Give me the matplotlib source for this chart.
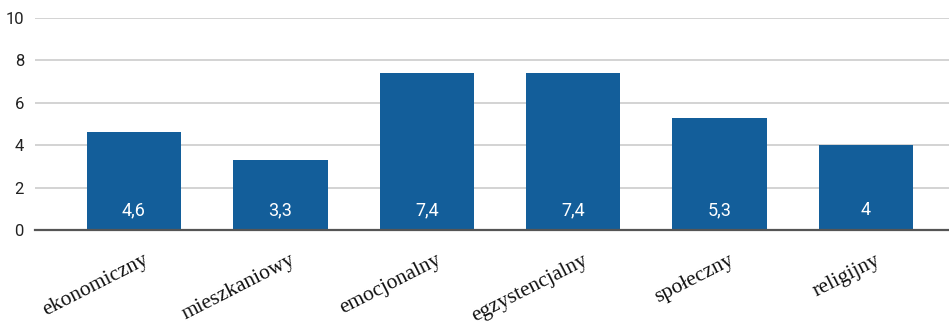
import matplotlib
matplotlib.use("Agg")
import matplotlib.pyplot as plt
from matplotlib.transforms import ScaledTranslation

categories = ["ekonomiczny", "mieszkaniowy", "emocjonalny", "egzystencjalny", "społeczny", "religijny"]
values = [4.6, 3.3, 7.4, 7.4, 5.3, 4.0]
y_ticks = [0, 2, 4, 6, 8, 10]

bar_color = "#135e9a"

fig = plt.figure(figsize=(9.49, 3.24), dpi=100)
ax = fig.add_axes([35 / 949, 1 - 230 / 324, 914 / 949, 212 / 324])

x = list(range(len(categories)))
ax.bar(x, values, width=0.645, color=bar_color, zorder=3)

ax.set_xlim(-0.676, 5.567)
ax.set_ylim(0, 10)
ax.set_yticks(y_ticks)
ax.set_yticklabels([str(t) for t in y_ticks], fontfamily="Roboto", fontsize=12, color="#222222")
ax.tick_params(axis="y", length=0, pad=8)
ax.tick_params(axis="x", length=0)
ax.grid(axis="y", color="#cccccc", linewidth=1.2, zorder=0)
ax.set_axisbelow(True)
for side in ("top", "right", "left"):
    ax.spines[side].set_visible(False)
ax.spines["bottom"].set_color("#555555")
ax.spines["bottom"].set_linewidth(1.6)
ax.spines["bottom"].set_zorder(4)

ax.set_xticks(x)
ax.set_xticklabels(categories, rotation=27, ha="right", rotation_mode="anchor",
                   fontfamily="Liberation Serif", fontsize=15.5, color="#111111")
for lbl in ax.get_xticklabels():
    lbl.set_transform(lbl.get_transform() + ScaledTranslation(9 / 100, -16 / 100, fig.dpi_scale_trans))

for xi, v in zip(x, values):
    ax.annotate(f"{v:g}".replace(".", ","), xy=(xi, 0), xytext=(0, 14.5), textcoords="offset points",
                ha="center", va="center", color="white", fontsize=13, fontfamily="Roboto", zorder=5)

fig.savefig("out.png", dpi=100, facecolor="white")
